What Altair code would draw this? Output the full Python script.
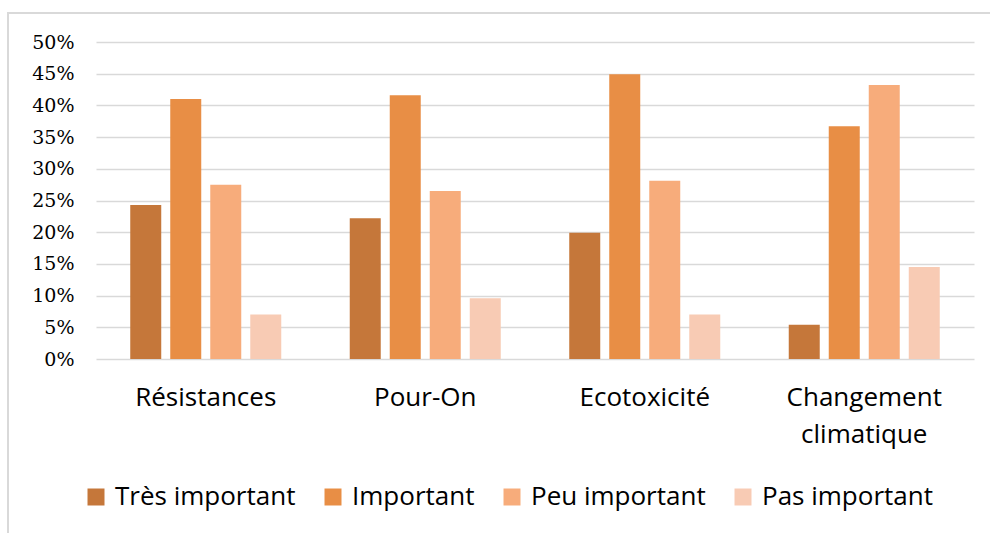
import altair as alt
import pandas as pd

# Survey answers: share of respondents per level of importance, by topic
topics = ["Résistances", "Pour-On", "Ecotoxicité", "Changement climatique"]
levels = ["Très important", "Important", "Peu important", "Pas important"]
values = {
    "Très important": [0.243, 0.222, 0.199, 0.054],
    "Important": [0.410, 0.416, 0.449, 0.367],
    "Peu important": [0.275, 0.265, 0.281, 0.432],
    "Pas important": [0.070, 0.096, 0.070, 0.145],
}
colors = ["#C5773A", "#E88E45", "#F7AC7B", "#F8CBB4"]
y_ticks = [i / 20 for i in range(11)]

rows = []
for level in levels:
    for topic, v in zip(topics, values[level]):
        rows.append({"topic": topic, "level": level, "value": v})
df = pd.DataFrame(rows)

label_font = "Open Sans"

bars = alt.Chart(df).mark_bar().encode(
    x=alt.X(
        "topic:N",
        sort=topics,
        title=None,
        scale=alt.Scale(paddingInner=0.271, paddingOuter=0.1355),
        axis=alt.Axis(
            labelFont=label_font,
            labelFontSize=26,
            labelColor="#000000",
            labelPadding=25,
            labelAngle=0,
            labelBaseline="top",
            labelLineHeight=37,
            labelLimit=0,
            labelExpr="datum.label == 'Changement climatique' ? ['Changement', 'climatique'] : datum.label",
            ticks=False,
            domain=False,
            grid=False,
        ),
    ),
    xOffset=alt.XOffset(
        "level:N",
        sort=levels,
        scale=alt.Scale(paddingInner=0.225, paddingOuter=0.1125),
    ),
    y=alt.Y(
        "value:Q",
        title=None,
        scale=alt.Scale(domain=[0, 0.5], nice=False),
        axis=alt.Axis(
            values=y_ticks,
            format=".0%",
            labelFont="DejaVu Serif",
            labelFontSize=19,
            labelColor="#000000",
            labelPadding=22,
            ticks=False,
            domain=False,
            grid=True,
            gridColor="#D9D9D9",
            gridWidth=1.5,
        ),
    ),
    color=alt.Color(
        "level:N",
        sort=levels,
        scale=alt.Scale(domain=levels, range=colors),
        legend=alt.Legend(
            title=None,
            orient="none",
            direction="horizontal",
            legendX=-13,
            legendY=442,
            symbolType="square",
            symbolSize=289,
            symbolStrokeWidth=0,
            labelFont=label_font,
            labelFontSize=26,
            labelColor="#000000",
            labelOffset=6,
            labelLimit=0,
            columnPadding=24,
            padding=0,
        ),
    ),
)

# light grey outline around the whole figure
frame = alt.Chart(alt.Data(values=[{}])).mark_rect(
    fill=None, stroke="#D9D9D9", strokeWidth=2
).encode(
    x=alt.value(-88), y=alt.value(-29), x2=alt.value(1100), y2=alt.value(700)
)

chart = alt.layer(bars, frame).properties(
    width=878,
    height=317,
    autosize=alt.AutoSizeParams(type="none"),
    padding={"left": 96, "top": 42, "right": 16, "bottom": 174},
).configure(background="#FFFFFF").configure_view(
    stroke="transparent", strokeWidth=0
)

chart.save("out.html", embed_options={"renderer": "svg", "actions": False})
